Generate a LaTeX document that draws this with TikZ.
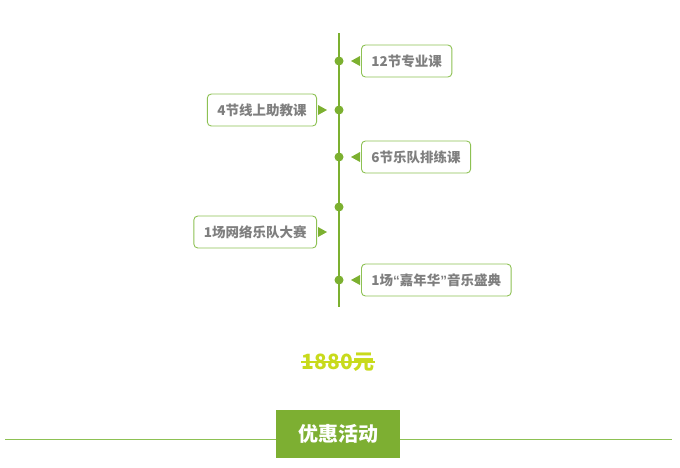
\documentclass[tikz,border=0pt]{standalone}
\usepackage{fontspec}
\setmainfont{Noto Sans CJK SC}
\newfontfamily\latinq{Liberation Sans}
\usetikzlibrary{positioning}
\definecolor{leafgreen}{HTML}{7CB030}
\definecolor{edgegreen}{HTML}{8DC153}
\definecolor{textgrey}{HTML}{7F7F7F}
\definecolor{pricegold}{HTML}{C8DA1C}
\definecolor{bargreen}{HTML}{7DAF32}
\tikzset{
  card/.style={draw=edgegreen, line width=0.9pt, fill=white, rounded corners=4pt, minimum height=32pt, inner xsep=10pt, font=\fontsize{13.5}{15}\selectfont\bfseries, text=textgrey},
  dot/.style={circle, fill=leafgreen, inner sep=0pt, minimum size=9pt},
  spine/.style={draw=leafgreen, line width=2.6pt},
  pointer/.style={fill=leafgreen},
  price/.style={font=\fontsize{21}{23}\selectfont\bfseries, text=pricegold},
  banner/.style={fill=bargreen, minimum width=124pt, minimum height=48pt, text=white, font=\fontsize{20}{22}\selectfont\bfseries},
  rule/.style={draw=edgegreen, line width=1pt}
}
\begin{document}
\begin{tikzpicture}[x=1pt, y=-1pt]
\useasboundingbox (0,0) rectangle (680,467);
% timeline
\coordinate (top) at (339,33);
\coordinate (bot) at (339,307);
\draw[spine] (top) -- (bot);
\node[dot] (d1) at (339,61) {};
\node[dot] (d2) at (339,110) {};
\node[dot] (d3) at (339,157) {};
\node[dot] (d4) at (339,207) {};
\node[dot] (d5) at (339,280) {};
% cards
\node[card, anchor=west] (c1) at (361,61) {12节专业课};
\node[card, anchor=east] (c2) at (317,110) {4节线上助教课};
\node[card, anchor=west] (c3) at (361,157) {6节乐队排练课};
\node[card, anchor=east] (c4) at (317,232) {1场网络乐队大赛};
\node[card, anchor=west] (c5) at (361,280) {1场{\latinq“}嘉年华{\latinq”}音乐盛典};
% pointers
\fill[pointer] (c1.west) ++(-1,-5) -- ++(-9,5) -- ++(9,5) -- cycle;
\fill[pointer] (c2.east) ++(1,-5) -- ++(9,5) -- ++(-9,5) -- cycle;
\fill[pointer] (c3.west) ++(-1,-5) -- ++(-9,5) -- ++(9,5) -- cycle;
\fill[pointer] (c4.east) ++(1,-5) -- ++(9,5) -- ++(-9,5) -- cycle;
\fill[pointer] (c5.west) ++(-1,-5) -- ++(-9,5) -- ++(9,5) -- cycle;
% price
\node[price] (cost) at (338,362) {1880元};
\draw[draw=pricegold, line width=1.6pt, shorten <=3pt, shorten >=3pt] (cost.west) -- (cost.east);
% footer
\coordinate (ruleL) at (5,439);
\coordinate (ruleR) at (672,439);
\draw[rule] (ruleL) -- (ruleR);
\node[banner] (offer) at (338,434) {优惠活动};
\end{tikzpicture}
\end{document}
